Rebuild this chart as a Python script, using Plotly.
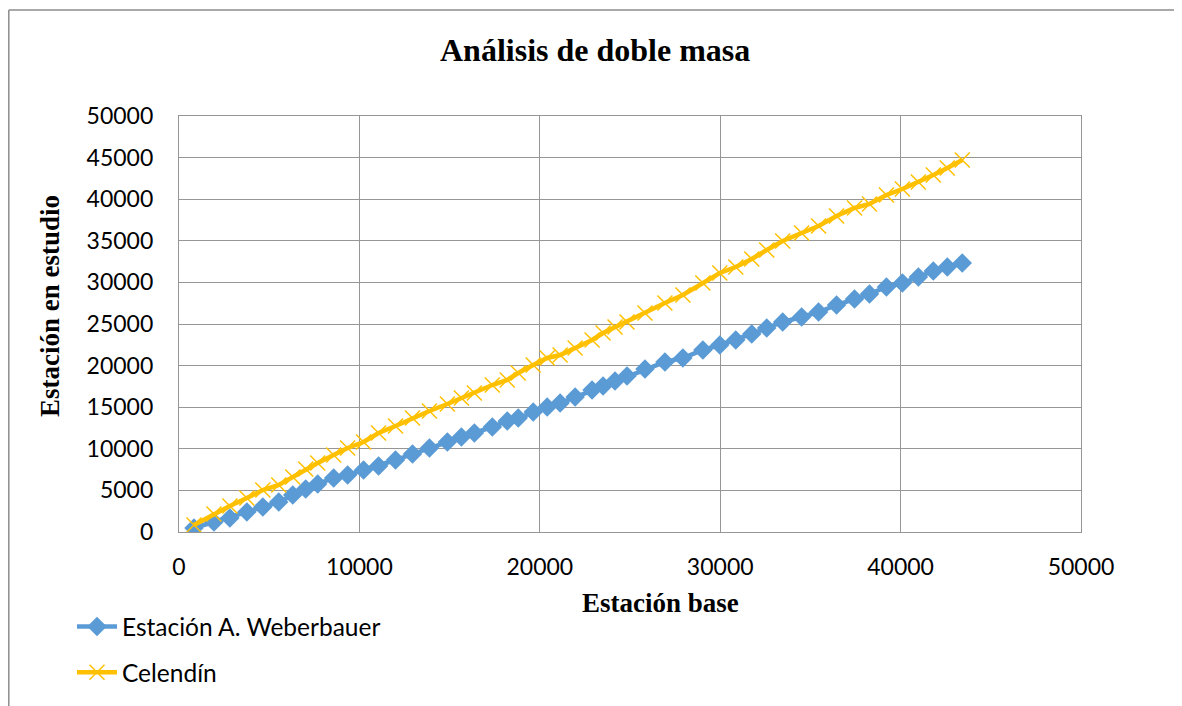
import plotly.graph_objects as go

# Cumulative precipitation of base station (x) and stations under study (y)
estacion_base = [830, 1936, 2821, 3761, 4646, 5531, 6305, 7024, 7688, 8573,
                 9347, 10232, 11062, 12002, 12943, 13883, 14878, 15653, 16372, 17367,
                 18197, 18805, 19635, 20409, 21128, 21958, 22898, 23507, 24170, 24834,
                 25830, 26936, 27932, 29038, 29978, 30863, 31748, 32578, 33463, 34513,
                 35454, 36450, 37445, 38275, 39215, 40100, 40985, 41815, 42589, 43418]

weberbauer = [481, 1202, 1683, 2404, 3005, 3606, 4447, 5168, 5769, 6490,
              6851, 7452, 7933, 8654, 9375, 10096, 10817, 11418, 11899, 12620,
              13341, 13702, 14423, 15024, 15505, 16226, 17067, 17548, 18149, 18750,
              19591, 20432, 20913, 21875, 22476, 23076, 23798, 24519, 25240, 25841,
              26442, 27283, 28004, 28605, 29447, 29927, 30648, 31370, 31850, 32331]

celendin = [841, 2163, 3125, 4086, 5048, 5649, 6610, 7572, 8293, 9255,
            10096, 10817, 11899, 12740, 13702, 14543, 15384, 16105, 16706, 17668,
            18269, 19110, 20072, 20913, 21274, 22115, 23076, 23918, 24639, 25240,
            26322, 27524, 28485, 29927, 31129, 31850, 32812, 33894, 34975, 35937,
            36778, 37980, 38942, 39422, 40504, 41225, 42067, 42908, 43749, 44711]

series_names = ["Estación A. Weberbauer", "Celendín"]
tick_vals = [0, 10000, 20000, 30000, 40000, 50000]
ytick_vals = [0, 5000, 10000, 15000, 20000, 25000, 30000, 35000, 40000, 45000, 50000]

BLUE = "#5B9BD5"
YELLOW = "#FFC000"
GRID = "#969696"
SERIF = "Liberation Serif, Times New Roman, serif"
SANS = "Lato, Carlito, Calibri, sans-serif"

fig = go.Figure()
fig.add_trace(go.Scatter(
    x=estacion_base, y=weberbauer, name=series_names[0], mode="lines+markers",
    line=dict(color=BLUE, width=4.5),
    marker=dict(symbol="diamond", size=15, color=BLUE),
    legendgroup="a",
))
fig.add_trace(go.Scatter(
    x=estacion_base, y=celendin, name=series_names[1], mode="lines+markers",
    line=dict(color=YELLOW, width=4.5),
    marker=dict(symbol="x-thin", size=15, color=YELLOW, line=dict(color=YELLOW, width=1.5)),
    legendgroup="b",
))

# The page body has an 8px margin: work in screen pixels and shift.
OFF = 8
W, H = 1182 - OFF, 706 - OFF
L, R, T, B = 179, 1081, 116, 532  # screen-pixel plot area
Lf, Rf, Tf, Bf = L - OFF, R - OFF, T - OFF, B - OFF


def px(xp):
    return (xp - L) / (R - L)


def py(yp):
    return (B - yp) / (B - T)


def cx(xp):
    return (xp - OFF) / W


def cy(yp):
    return 1 - (yp - OFF) / H


fig.update_layout(
    width=W, height=H,
    margin=dict(l=Lf, r=W - Rf, t=Tf, b=H - Bf, pad=0, autoexpand=False),
    paper_bgcolor="white", plot_bgcolor="white",
    font=dict(family=SANS, size=23, color="#000000"),
    showlegend=True,
    legend=dict(
        xref="container", yref="container",
        x=cx(72), y=cy(604), xanchor="left", yanchor="top",
        font=dict(family=SANS, size=24.5, color="#000000"),
        tracegroupgap=11, bgcolor="rgba(0,0,0,0)",
        itemwidth=40,
    ),
    xaxis=dict(
        range=[0, 50000], tickvals=tick_vals, tickformat="d",
        showgrid=True, gridcolor=GRID, gridwidth=1.2,
        showline=True, linecolor=GRID, linewidth=1.2, mirror=True,
        zeroline=False, ticks="", ticklabelstandoff=14,
        tickfont=dict(family=SANS, size=23),
    ),
    yaxis=dict(
        range=[0, 50000], tickvals=ytick_vals, tickformat="d",
        showgrid=True, gridcolor=GRID, gridwidth=1.2,
        showline=True, linecolor=GRID, linewidth=1.2, mirror=True,
        zeroline=False, ticks="", ticklabelstandoff=20,
        tickfont=dict(family=SANS, size=23),
    ),
    annotations=[
        dict(text="<b>Análisis de doble masa</b>", xref="paper", yref="paper",
             x=px(595), y=py(50), xanchor="center", yanchor="middle", showarrow=False,
             font=dict(family=SERIF, size=32, color="#000000")),
        dict(text="<b>Estación base</b>", xref="paper", yref="paper",
             x=px(660), y=py(603), xanchor="center", yanchor="middle", showarrow=False,
             font=dict(family=SERIF, size=27, color="#000000")),
        dict(text="<b>Estación en estudio</b>", xref="paper", yref="paper",
             x=px(50), y=py(306), xanchor="center", yanchor="middle", showarrow=False,
             textangle=-90, font=dict(family=SERIF, size=27, color="#000000")),
    ],
    shapes=[
        dict(type="line", xref="paper", yref="paper", x0=px(8.8), x1=px(8.8), y0=py(10), y1=py(720),
             line=dict(color="#8c8c8c", width=1.5)),
        dict(type="line", xref="paper", yref="paper", x0=px(8.8), x1=px(1200), y0=py(10), y1=py(10),
             line=dict(color="#8c8c8c", width=1.5)),
    ],
)

fig.write_html("out.html")
